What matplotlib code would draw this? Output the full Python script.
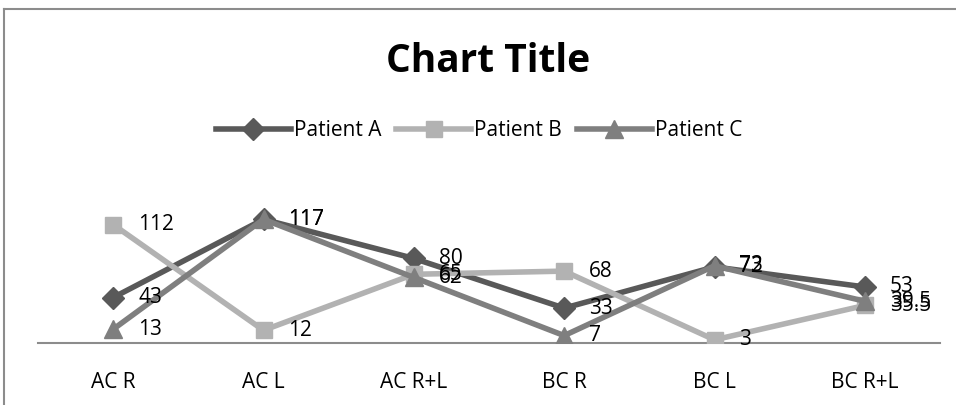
import matplotlib
matplotlib.use("Agg")
import matplotlib.pyplot as plt
from matplotlib.lines import Line2D

categories = ["AC R", "AC L", "AC R+L", "BC R", "BC L", "BC R+L"]
patient_a = [43, 117, 80, 33, 72, 53]
patient_b = [112, 12, 65, 68, 3, 35.5]
patient_c = [13, 117, 62, 7, 73, 39.5]

W, H = 956, 405
fig = plt.figure(figsize=(W / 100, H / 100), dpi=100)
plt.rcParams["font.family"] = ["Open Sans", "DejaVu Sans"]

# chart border (left and top edges visible)
fig.add_artist(Line2D([4 / W, 4 / W], [0, 1 - 9 / H], transform=fig.transFigure,
                      color="#8c8c8c", lw=1.5))
fig.add_artist(Line2D([4 / W, 1], [1 - 9 / H, 1 - 9 / H], transform=fig.transFigure,
                      color="#8c8c8c", lw=1.5))

left, right = 38, 940
bottom, top = 343, 195
ax = fig.add_axes([left / W, (H - bottom) / H, (right - left) / W, (bottom - top) / H])
x = list(range(len(categories)))

series = [
    ("Patient A", patient_a, "#595959", "D", 11),
    ("Patient B", patient_b, "#b2b2b2", "s", 12),
    ("Patient C", patient_c, "#7f7f7f", "^", 13),
]
for name, vals, col, mk, ms in series:
    ax.plot(x, vals, color=col, lw=4, marker=mk, ms=ms, label=name, zorder=3)
    for xi, v in zip(x, vals):
        lbl = f"{v:g}"
        ax.annotate(lbl, (xi, v), xytext=(18, 0), textcoords="offset points",
                    va="center", ha="left", fontsize=15, color="black", zorder=4)

ax.set_xlim(-0.5, len(categories) - 0.5)
ax.set_ylim(0, 140)
ax.set_xticks(x)
ax.set_xticklabels(categories, fontsize=15)
ax.tick_params(axis="x", length=0, pad=21)
ax.set_yticks([])
for s in ["top", "right", "left"]:
    ax.spines[s].set_visible(False)
ax.spines["bottom"].set_color("#8c8c8c")
ax.spines["bottom"].set_linewidth(1.5)
ax.patch.set_alpha(0)

fig.text(488 / W, 1 - 62 / H, "Chart Title", ha="center", va="center",
         fontsize=28, fontweight="bold")
fig.legend(loc="center", bbox_to_anchor=(479 / W, 1 - 131 / H), ncol=3,
           frameon=False, fontsize=15, handlelength=3.6, columnspacing=0.7,
           handletextpad=0.15)

fig.savefig("out.png", dpi=100, facecolor="white")
